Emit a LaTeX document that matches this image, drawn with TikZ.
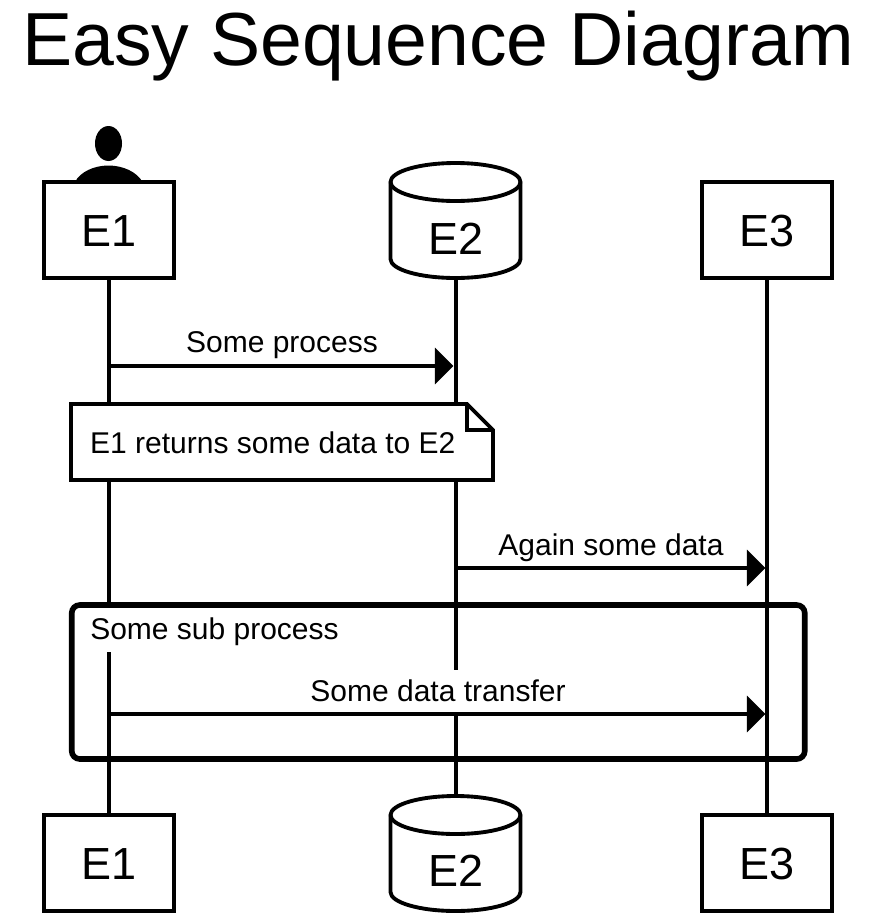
\documentclass[tikz,border=0pt]{standalone}
\usepackage{fontspec}
\setmainfont{Liberation Sans}
\usetikzlibrary{arrows.meta,backgrounds}
\tikzset{
  x=0.75pt,y=-0.75pt,
  entity/.style={draw=black,fill=white,line width=2.9pt,minimum width=97.5pt,minimum height=72pt,inner sep=0pt},
  entname/.style={inner sep=0pt,font=\fontsize{33.75pt}{40pt}\selectfont},
  cylhit/.style={inner sep=0pt,minimum width=97.5pt,minimum height=86.25pt},
  lifeline/.style={draw=black,line width=3pt},
  msg/.style={draw=black,line width=2.8pt,-{Triangle[length=14pt,width=27pt]}},
  msglabel/.style={inner sep=0pt,font=\fontsize{22.5pt}{27pt}\selectfont},
  cyl/.style={draw=black,fill=white,line width=2.9pt},
  frameline/.style={draw=black,line width=4.2pt,rounded corners=6pt},
  notebox/.style={draw=black,fill=white,line width=2.7pt,line join=miter},
}
\newcommand{\cylpath}[2]{%
  \path[cyl] (#1-65,#2) .. controls (#1-65,#2-10.5) and (#1-36,#2-19) .. (#1,#2-19)
     .. controls (#1+36,#2-19) and (#1+65,#2-10.5) .. (#1+65,#2)
     -- (#1+65,#2+77)
     .. controls (#1+65,#2+87.5) and (#1+36,#2+96) .. (#1,#2+96)
     .. controls (#1-36,#2+96) and (#1-65,#2+87.5) .. (#1-65,#2+77) -- cycle;
  \path[cyl,fill=none] (#1-65,#2) .. controls (#1-65,#2+10.5) and (#1-36,#2+19) .. (#1,#2+19)
     .. controls (#1+36,#2+19) and (#1+65,#2+10.5) .. (#1+65,#2);
}
\begin{document}
\begin{tikzpicture}
\useasboundingbox (0,0) rectangle (872,922);
\node[inner sep=0pt,font=\fontsize{56.4pt}{60pt}\selectfont] (title) at (438,46.5) {Easy Sequence Diagram};
% person
\fill[black] (108.5,143.5) ellipse[x radius=13.5,y radius=17.5];
\fill[black] (75,182) .. controls (80,172) and (94,165.5) .. (108.5,165.5) .. controls (123,165.5) and (137,172) .. (142.5,182) -- cycle;
% entities
\node[entity] (e1t) at (108.75,230) {};
\node[entity] (e3t) at (767,230) {};
\node[entity] (e1b) at (108.75,863) {};
\node[entity] (e3b) at (767,863) {};
\cylpath{455.5}{182}
\cylpath{455.5}{815}
\node[cylhit] (e2t) at (455.5,220.5) {};
\node[cylhit] (e2b) at (455.5,853.5) {};
\node[entname] (e1tl) at (109,231) {E1};
\node[entname] (e3tl) at (767.5,231) {E3};
\node[entname] (e1bl) at (109,864) {E1};
\node[entname] (e3bl) at (767.5,864) {E3};
\node[entname] (e2tl) at (456,239) {E2};
\node[entname] (e2bl) at (456,871) {E2};
\begin{scope}[on background layer]
\draw[lifeline] (e1t.south) -- (e1b.north);
\draw[lifeline] (e2t.south) -- (e2b.north);
\draw[lifeline] (e3t.south) -- (e3b.north);
\end{scope}
% named message ends
\coordinate (m1a) at (109,366);
\coordinate (m1b) at (453.5,366);
\coordinate (m2a) at (456,568);
\coordinate (m2b) at (765.5,568);
\coordinate (m3a) at (109,714);
\coordinate (m3b) at (765.5,714);
% note
\path[notebox] (71,404) -- (467,404) -- (493,430) -- (493,480) -- (71,480) -- cycle;
\path[notebox,fill=none] (467,404) -- (467,430) -- (493,430);
\node[msglabel] (note) at (272.8,443) {E1 returns some data to E2};
% frame
\node[frameline,minimum width=549.75pt,minimum height=115.5pt,inner sep=0pt] (grp) at (438.25,682) {};
\node[msglabel,anchor=base west,fill=white,text height=23.25pt,text depth=9.75pt] (sub) at (90,639) {Some sub process};
\node[msglabel,fill=white,minimum height=31.5pt,inner xsep=2pt] (xfer) at (438,691) {Some data transfer};
\node[msglabel] (l1) at (282,345) {Some process};
\node[msglabel] (l2) at (611,547.5) {Again some data};
\draw[msg] (m1a) -- (m1b);
\draw[msg] (m2a) -- (m2b);
\draw[msg] (m3a) -- (m3b);
\end{tikzpicture}
\end{document}
